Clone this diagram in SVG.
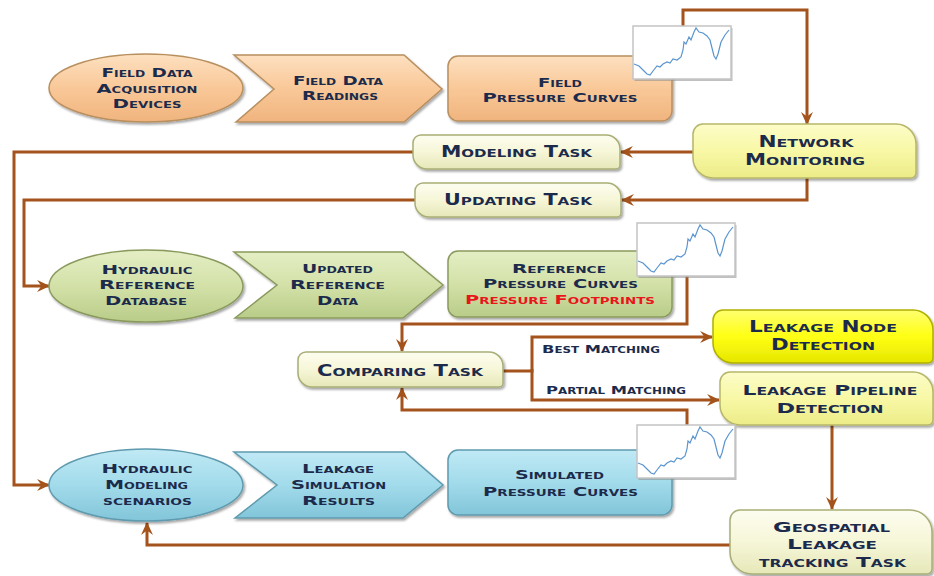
<svg xmlns="http://www.w3.org/2000/svg" xmlns:xlink="http://www.w3.org/1999/xlink" width="934" height="576" viewBox="0 0 934 576">
<style>
.t{font-family:"DejaVu Sans","Liberation Sans",sans-serif;font-weight:bold;font-variant:small-caps;fill:#1c2b4b;text-anchor:middle}
.s11{font-size:11px}.s12{font-size:12px}.s13{font-size:13px}.s14{font-size:14px}.s15{font-size:15px}
.red{fill:#e8161b}
.lab{text-anchor:start}
.peach{fill:url(#gPeach);stroke:#b88f5f;stroke-width:1.5;filter:url(#sh)}
.green{fill:url(#gGreen);stroke:#8a9a5e;stroke-width:1.5;filter:url(#sh)}
.blue{fill:url(#gBlue);stroke:#5f9aae;stroke-width:1.5;filter:url(#sh)}
.cream{fill:url(#gCream);stroke:#a9ae76;stroke-width:1.5;filter:url(#sh)}
.ylight{fill:url(#gYl);stroke:#b6b66a;stroke-width:1.5;filter:url(#sh)}
.ybright{fill:url(#gY);stroke:#b0b000;stroke-width:1.5;filter:url(#sh)}
.conn{fill:none;stroke:#a3531b;stroke-width:3;stroke-linejoin:miter}
.arr{marker-end:url(#ah)}
</style>
<defs>
<filter id="sh" x="-10%" y="-15%" width="125%" height="140%">
<feDropShadow dx="1.5" dy="2" stdDeviation="1.2" flood-color="#000" flood-opacity="0.35"/>
</filter>
<linearGradient id="gPeach" x1="0" y1="0" x2="0" y2="1"><stop offset="0" stop-color="#fde0c0"/><stop offset="0.5" stop-color="#f9c898"/><stop offset="1" stop-color="#f0b47e"/></linearGradient>
<linearGradient id="gGreen" x1="0" y1="0" x2="0" y2="1"><stop offset="0" stop-color="#e4eec4"/><stop offset="0.5" stop-color="#d3e1a8"/><stop offset="1" stop-color="#b9cc88"/></linearGradient>
<linearGradient id="gBlue" x1="0" y1="0" x2="0" y2="1"><stop offset="0" stop-color="#c0e9f5"/><stop offset="0.5" stop-color="#a2dbeb"/><stop offset="1" stop-color="#82c5d9"/></linearGradient>
<linearGradient id="gCream" x1="0" y1="0" x2="0" y2="1"><stop offset="0" stop-color="#fdfdf0"/><stop offset="0.5" stop-color="#f6f6d8"/><stop offset="1" stop-color="#e6e8b8"/></linearGradient>
<linearGradient id="gYl" x1="0" y1="0" x2="0" y2="1"><stop offset="0" stop-color="#fcfcc8"/><stop offset="0.5" stop-color="#f8f8a6"/><stop offset="1" stop-color="#ecec88"/></linearGradient>
<linearGradient id="gY" x1="0" y1="0" x2="0" y2="1"><stop offset="0" stop-color="#ffff70"/><stop offset="0.5" stop-color="#ffff14"/><stop offset="1" stop-color="#e6e600"/></linearGradient>
<marker id="ah" viewBox="0 0 12 12" refX="11" refY="6" markerWidth="13" markerHeight="13" markerUnits="userSpaceOnUse" orient="auto">
<path d="M0,0.5 L12,6 L0,11.5 L4,6 Z" fill="#a3531b"/>
</marker>
<g id="chart">
<rect x="1.5" y="2" width="98" height="53" fill="#8c8c8c" opacity="0.55"/>
<rect x="0" y="0" width="98" height="53" fill="#ffffff" stroke="#c4c4c4" stroke-width="1.5"/>
<polyline fill="none" stroke="#5b95cf" stroke-width="1.2" points="1,38 6,40 10,44 14,48 17,49 20,45 24,40 27,41 30,38 34,36 37,37 40,33 44,34 48,31 50,24 51,16 53,18 56,11 58,14 61,6 63,2 66,6 70,7 74,10 77,14 79,22 81,30 83,33 85,28 88,16 92,9 96,4"/>
</g>
</defs>
<rect width="934" height="576" fill="#ffffff"/>

<g id="connectors">
<path class="conn arr" d="M683,26 V10 H807 V124"/>
<path class="conn arr" d="M693,152 H621"/>
<path class="conn arr" d="M807,178 V200 H622"/>
<path class="conn arr" d="M413,152 H14 V485 H49"/>
<path class="conn arr" d="M415,200 H24 V286 H49"/>
<path class="conn arr" d="M687,275 V324 H402 V351"/>
<path class="conn arr" d="M503,371 H532 V337 H712"/>
<path class="conn arr" d="M532,369 V400 H719"/>
<path class="conn arr" d="M687,425 V410 H402 V388"/>
<path class="conn arr" d="M832,425 V509"/>
<path class="conn arr" d="M730,545 H147 V523"/>
</g>

<g id="field-data-acquisition-devices">
<ellipse class="peach" cx="146" cy="88" rx="97" ry="34"/>
<text class="t s12" x="147" y="77" textLength="91" lengthAdjust="spacingAndGlyphs">Field Data</text>
<text class="t s12" x="147" y="93" textLength="101" lengthAdjust="spacingAndGlyphs">Acquisition</text>
<text class="t s12" x="147" y="108" textLength="69" lengthAdjust="spacingAndGlyphs">Devices</text>
</g>
<g id="field-data-readings">
<polygon class="peach" points="234,55 404,55 442,89 404,122 236,122 274,89"/>
<text class="t s12" x="338" y="85" textLength="90" lengthAdjust="spacingAndGlyphs">Field Data</text>
<text class="t s12" x="340" y="100" textLength="76" lengthAdjust="spacingAndGlyphs">Readings</text>
</g>
<g id="field-pressure-curves">
<rect class="peach" x="448" y="56" width="224" height="65" rx="10"/>
<text class="t s13" x="560" y="87" textLength="44" lengthAdjust="spacingAndGlyphs">Field</text>
<text class="t s13" x="560" y="102" textLength="155" lengthAdjust="spacingAndGlyphs">Pressure Curves</text>
<use xlink:href="#chart" href="#chart" x="633" y="26"/>
</g>
<g id="network-monitoring">
<path class="ylight" d="M703,124 H896 A20,20 0 0 1 916,144 V173 A5,5 0 0 1 911,178 H713 A20,20 0 0 1 693,158 V134 A10,10 0 0 1 703,124 Z"/>
<text class="t s15" x="806" y="147" textLength="95" lengthAdjust="spacingAndGlyphs">Network</text>
<text class="t s15" x="805" y="165" textLength="120" lengthAdjust="spacingAndGlyphs">Monitoring</text>
</g>
<g id="modeling-task">
<path class="cream" d="M421,135 H606 A14,14 0 0 1 620,149 V165 A4,4 0 0 1 616,169 H427 A14,14 0 0 1 413,155 V143 A8,8 0 0 1 421,135 Z"/>
<text class="t s15" x="516.5" y="157" textLength="151" lengthAdjust="spacingAndGlyphs">Modeling Task</text>
</g>
<g id="updating-task">
<path class="cream" d="M423,183 H607 A14,14 0 0 1 621,197 V213 A4,4 0 0 1 617,217 H429 A14,14 0 0 1 415,203 V191 A8,8 0 0 1 423,183 Z"/>
<text class="t s15" x="518" y="205" textLength="148" lengthAdjust="spacingAndGlyphs">Updating Task</text>
</g>

<g id="hydraulic-reference-database">
<ellipse class="green" cx="146" cy="286" rx="97" ry="36"/>
<text class="t s12" x="147" y="274" textLength="91" lengthAdjust="spacingAndGlyphs">Hydraulic</text>
<text class="t s12" x="147" y="289" textLength="96" lengthAdjust="spacingAndGlyphs">Reference</text>
<text class="t s12" x="146" y="305" textLength="82" lengthAdjust="spacingAndGlyphs">Database</text>
</g>
<g id="updated-reference-data">
<polygon class="green" points="234,252 403,252 443,285 403,318 235,318 277,285"/>
<text class="t s12" x="337.5" y="273" textLength="71" lengthAdjust="spacingAndGlyphs">Updated</text>
<text class="t s12" x="337.5" y="289" textLength="95" lengthAdjust="spacingAndGlyphs">Reference</text>
<text class="t s12" x="337.5" y="305" textLength="41" lengthAdjust="spacingAndGlyphs">Data</text>
</g>
<g id="reference-pressure-curves">
<rect class="green" x="448" y="251" width="224" height="66" rx="10"/>
<text class="t s13" x="559" y="273" textLength="94" lengthAdjust="spacingAndGlyphs">Reference</text>
<text class="t s13" x="560.5" y="288" textLength="155" lengthAdjust="spacingAndGlyphs">Pressure Curves</text>
<text class="t s13 red" x="560" y="304" textLength="190" lengthAdjust="spacingAndGlyphs">Pressure Footprints</text>
<use xlink:href="#chart" href="#chart" x="637" y="223"/>
</g>

<g id="comparing-task">
<path class="cream" d="M306,352 H489 A14,14 0 0 1 503,366 V383 A4,4 0 0 1 499,387 H312 A14,14 0 0 1 298,373 V360 A8,8 0 0 1 306,352 Z"/>
<text class="t s15" x="400" y="376" textLength="166" lengthAdjust="spacingAndGlyphs">Comparing Task</text>
</g>
<g id="matching-labels">
<text class="t s11 lab" x="542" y="353" textLength="118" lengthAdjust="spacingAndGlyphs">Best Matching</text>
<text class="t s11 lab" x="546" y="394" textLength="140" lengthAdjust="spacingAndGlyphs">Partial Matching</text>
</g>
<g id="leakage-node-detection">
<path class="ybright" d="M723,310 H913 A20,20 0 0 1 933,330 V358 A5,5 0 0 1 928,363 H733 A20,20 0 0 1 713,343 V320 A10,10 0 0 1 723,310 Z"/>
<text class="t s15" x="823" y="332" textLength="148" lengthAdjust="spacingAndGlyphs">Leakage Node</text>
<text class="t s15" x="823" y="350" textLength="104" lengthAdjust="spacingAndGlyphs">Detection</text>
</g>
<g id="leakage-pipeline-detection">
<path class="ylight" d="M730,372 H913 A20,20 0 0 1 933,392 V420 A5,5 0 0 1 928,425 H740 A20,20 0 0 1 720,405 V382 A10,10 0 0 1 730,372 Z"/>
<text class="t s14" x="830" y="395" textLength="175" lengthAdjust="spacingAndGlyphs">Leakage Pipeline</text>
<text class="t s14" x="830" y="413" textLength="107" lengthAdjust="spacingAndGlyphs">Detection</text>
</g>

<g id="hydraulic-modeling-scenarios">
<ellipse class="blue" cx="146" cy="485" rx="97" ry="36"/>
<text class="t s12" x="147" y="473" textLength="91" lengthAdjust="spacingAndGlyphs">Hydraulic</text>
<text class="t s12" x="146.5" y="489" textLength="83" lengthAdjust="spacingAndGlyphs">Modeling</text>
<text class="t s12" x="147.5" y="505" textLength="89" lengthAdjust="spacingAndGlyphs">scenarios</text>
</g>
<g id="leakage-simulation-results">
<polygon class="blue" points="234,452 405,452 443,485 403,518 235,518 277,485"/>
<text class="t s12" x="338" y="473" textLength="72" lengthAdjust="spacingAndGlyphs">Leakage</text>
<text class="t s12" x="338.5" y="489" textLength="95" lengthAdjust="spacingAndGlyphs">Simulation</text>
<text class="t s12" x="338.5" y="505" textLength="73" lengthAdjust="spacingAndGlyphs">Results</text>
</g>
<g id="simulated-pressure-curves">
<rect class="blue" x="448" y="450" width="224" height="65" rx="10"/>
<text class="t s13" x="559.5" y="479" textLength="89" lengthAdjust="spacingAndGlyphs">Simulated</text>
<text class="t s13" x="560.5" y="496" textLength="155" lengthAdjust="spacingAndGlyphs">Pressure Curves</text>
<use xlink:href="#chart" href="#chart" x="637" y="425"/>
</g>
<g id="geospatial-leakage-tracking-task">
<path class="cream" d="M740,510 H910 A22,22 0 0 1 932,532 V569 A5,5 0 0 1 927,574 H752 A22,22 0 0 1 730,552 V520 A10,10 0 0 1 740,510 Z"/>
<text class="t s14" x="831.5" y="532" textLength="117" lengthAdjust="spacingAndGlyphs">Geospatial</text>
<text class="t s14" x="832" y="549" textLength="90" lengthAdjust="spacingAndGlyphs">Leakage</text>
<text class="t s14" x="832.5" y="567" textLength="147" lengthAdjust="spacingAndGlyphs">tracking Task</text>
</g>
</svg>
